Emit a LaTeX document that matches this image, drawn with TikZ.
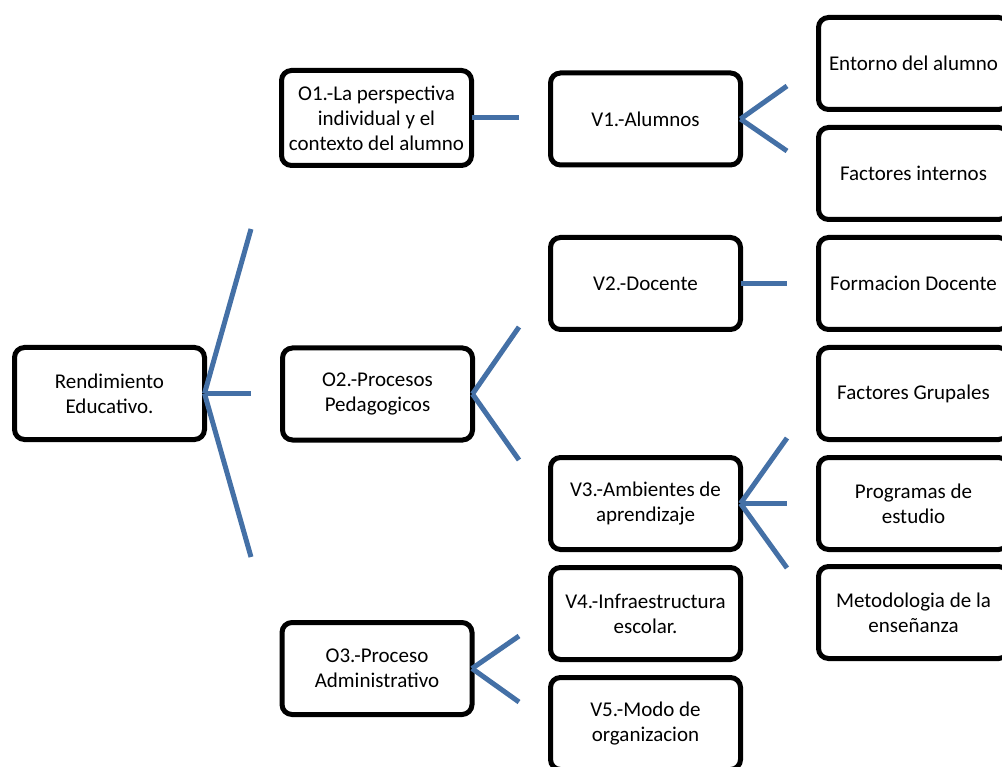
\documentclass[tikz,border=0pt]{standalone}
\usepackage{fontspec}
\setmainfont{Carlito}
\definecolor{linkblue}{RGB}{68,112,166}
\begin{document}
\begin{tikzpicture}[x=1pt,y=-1pt,
  box/.style={draw=black, line width=5pt, rounded corners=10pt, fill=white,
    minimum width=190pt, minimum height=92pt, align=center, outer sep=0pt,
    font=\fontsize{21}{25}\selectfont, inner sep=2pt},
  link/.style={draw=linkblue, line width=5pt}]
\useasboundingbox (0,0) rectangle (1002,767);
\clip (0,0) rectangle (1002,767);
% nodes
\node[box] (re) at (109.5,393.5) {Rendimiento\\Educativo.};
\node[box, minimum height=95pt] (o1) at (376.5,118) {O1.-La perspectiva\\individual y el\\contexto del alumno};
\node[box] (o2) at (377.5,394) {O2.-Procesos\\Pedagogicos};
\node[box] (o3) at (377,668.5) {O3.-Proceso\\Administrativo};
\node[box] (v1) at (645.5,119) {V1.-Alumnos};
\node[box] (v2) at (645.5,283.5) {V2.-Docente};
\node[box] (v3) at (645.5,503.5) {V3.-Ambientes de\\aprendizaje};
\node[box] (v4) at (645.5,613.5) {V4.-Infraestructura\\escolar.};
\node[box] (v5) at (645.5,723.5) {V5.-Modo de\\organizacion};
\node[box] (r1) at (913.5,63.5) {Entorno del alumno};
\node[box] (r2) at (913.5,173.5) {Factores internos};
\node[box] (r3) at (913.5,283.5) {Formacion Docente};
\node[box] (r4) at (913.5,393.5) {Factores Grupales};
\node[box] (r5) at (913.5,503.5) {Programas de\\estudio};
\node[box] (r6) at (913.5,612.5) {Metodologia de la\\enseñanza};
% free ends
\coordinate (reA) at (251,229);
\coordinate (reB) at (251,393.5);
\coordinate (reC) at (251,557);
\coordinate (o1A) at (519,118);
\coordinate (o2A) at (519,327);
\coordinate (o2B) at (519,460);
\coordinate (o3A) at (519,636);
\coordinate (o3B) at (519,702);
\coordinate (v1A) at (787,86);
\coordinate (v1B) at (787,151);
\coordinate (v2A) at (787,283.5);
\coordinate (v3A) at (787,438);
\coordinate (v3B) at (787,503.5);
\coordinate (v3C) at (787,568);
% connectors
\draw[link] (re.east) -- (reA);
\draw[link] (re.east) -- (reB);
\draw[link] (re.east) -- (reC);
\draw[link] (o1.east) -- (o1A);
\draw[link] (o2.east) -- (o2A);
\draw[link] (o2.east) -- (o2B);
\draw[link] (o3.east) -- (o3A);
\draw[link] (o3.east) -- (o3B);
\draw[link] (v1.east) -- (v1A);
\draw[link] (v1.east) -- (v1B);
\draw[link] (v2.east) -- (v2A);
\draw[link] (v3.east) -- (v3A);
\draw[link] (v3.east) -- (v3B);
\draw[link] (v3.east) -- (v3C);
\end{tikzpicture}
\end{document}
